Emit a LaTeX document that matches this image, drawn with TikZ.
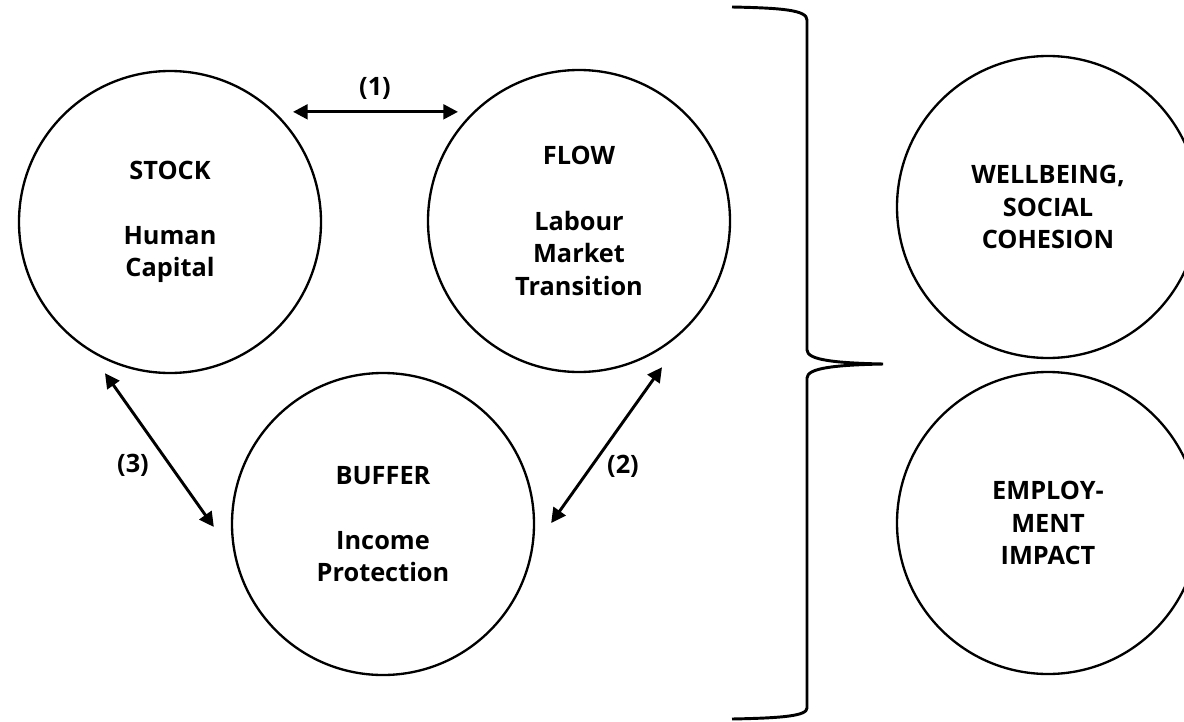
\documentclass[tikz,border=0pt]{standalone}
\usepackage{fontspec}
\setmainfont{Open Sans}
\usetikzlibrary{arrows.meta}
\begin{document}
\begin{tikzpicture}[x=0.75pt,y=-0.75pt,
  hub/.style={circle,draw,line width=1.75pt,minimum size=226.5pt,inner sep=0pt,
    align=center,font=\fontsize{19}{24.4}\selectfont\bfseries},
  twoway/.style={line width=2.2pt,
    {Triangle[length=11pt,width=11pt]}-{Triangle[length=11pt,width=11pt]}},
  tag/.style={font=\fontsize{19}{24.4}\selectfont\bfseries,inner sep=0pt},
  bracket/.style={line width=2.2pt}]
\clip (0,0) rectangle (1184,721);
\fill[white] (0,0) rectangle (1184,721);

% the three policy pillars
\node[hub] (stock)  at (170,222) {STOCK\\[24.4pt]Human\\Capital};
\node[hub] (flow)   at (579,221) {FLOW\\[24.4pt]Labour\\Market\\Transition};
\node[hub] (buffer) at (383,524) {BUFFER\\[24.4pt]Income\\Protection};

% outcomes
\node[hub] (wellbeing)  at (1048,207) {WELLBEING,\\SOCIAL\\COHESION};
\node[hub] (employment) at (1048,523) {EMPLOY-\\MENT\\IMPACT};

% interactions between the pillars
\draw[twoway] ([shift={(123,42)}]stock.north) -- ([shift={(-121,43)}]flow.north);
\draw[twoway] ([shift={(16,-1)}]buffer.east) -- ([shift={(83,-6)}]flow.south);
\draw[twoway] ([shift={(-65,-1)}]stock.south) -- ([shift={(-17,3)}]buffer.west);

\node[tag] (n1) at (375,88)  {(1)};
\node[tag] (n2) at (623,466) {(2)};
\node[tag] (n3) at (133,465) {(3)};

% grouping brace
\draw[bracket] (732,7) .. controls (782,8) and (807,10) .. (807,20)
  -- (807,350) .. controls (807,360) and (835,363) .. (883,364)
  .. controls (835,365) and (807,368) .. (807,378)
  -- (807,708) .. controls (807,716) and (782,718) .. (732,719);
\end{tikzpicture}
\end{document}
